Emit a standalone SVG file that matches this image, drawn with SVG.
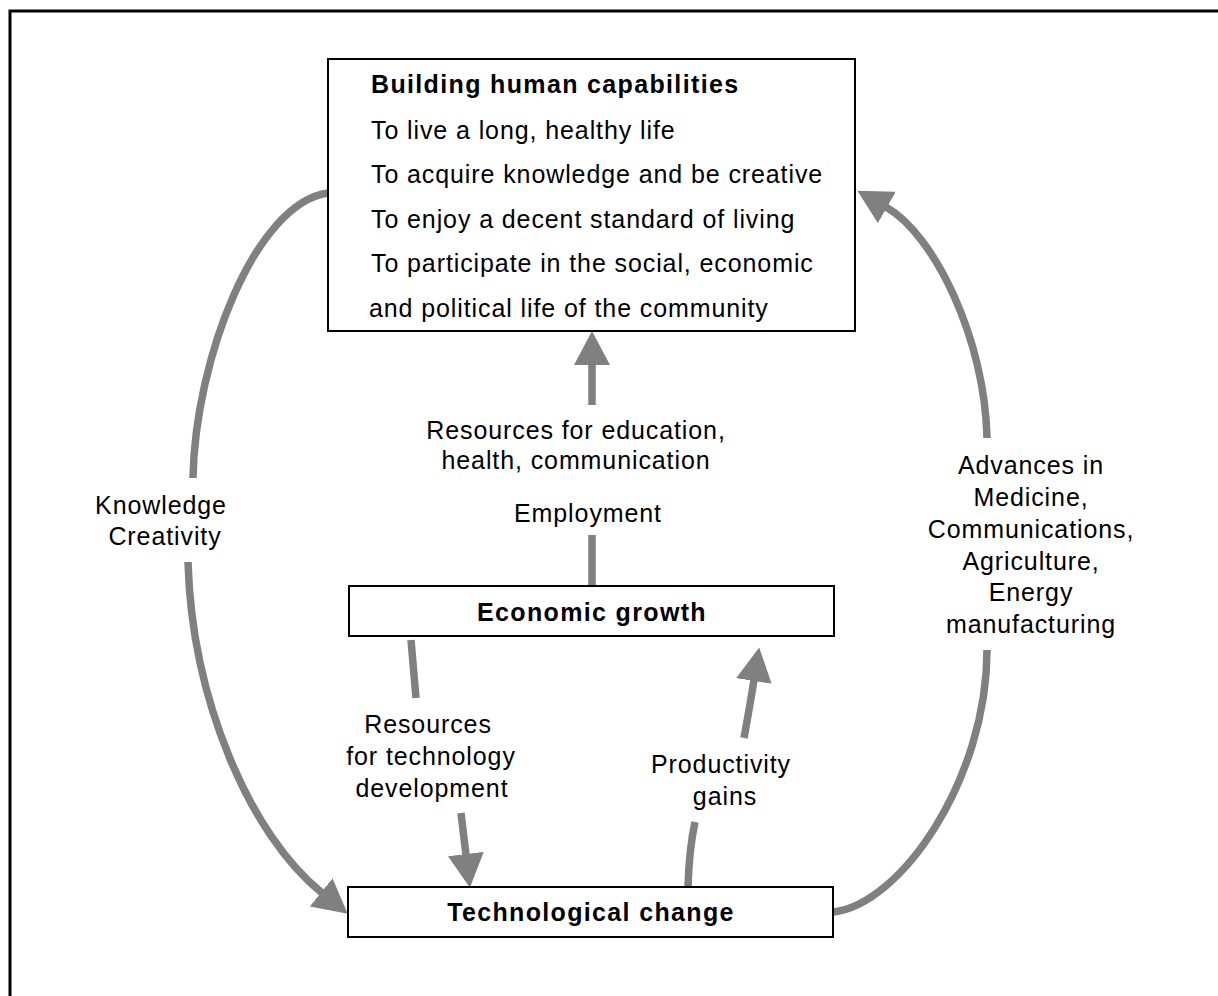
<svg xmlns="http://www.w3.org/2000/svg" width="1218" height="996" viewBox="0 0 1218 996">
  <style>
    .frame { fill: none; stroke: #000; stroke-width: 3; }
    .box { fill: #fff; stroke: #000; stroke-width: 2; }
    .txt { font-family: "Liberation Sans", Arial, sans-serif; font-size: 25px; fill: #000; letter-spacing: 0.9px; }
    .bold { font-weight: bold; letter-spacing: 1.35px; }
    .mid { text-anchor: middle; }
    .flow { fill: none; stroke: #808080; stroke-width: 7.5; marker-end: url(#head); }
  </style>
  <defs>
    <marker id="head" markerUnits="userSpaceOnUse" viewBox="0 0 34 36" refX="1" refY="18" markerWidth="34" markerHeight="36" orient="auto">
      <path d="M0,0 L34,18 L0,36 Z" fill="#808080"/>
    </marker>
  </defs>

  <!-- page frame -->
  <path class="frame" d="M10,996 V11 H1218"/>

  <!-- connectors -->
  <g id="connectors">
    <!-- knowledge / creativity loop -->
    <path class="flow" d="M328,193 C255,203 195,360 193,478 M188,562 C192,700 250,835 322,893"/>
    <!-- advances loop -->
    <path class="flow" d="M833,912 C900,905 987,780 987,650 M987,438 C985,340 935,235 886,207"/>
    <!-- growth to capabilities -->
    <path class="flow" d="M592,586 V535 M592,405 V364"/>
    <!-- growth to technology -->
    <path class="flow" d="M411,640 L416,698 M461,813 L466,855"/>
    <!-- technology to growth -->
    <path class="flow" d="M688,887 Q689,850 695,822 M744,738 Q750,705 754,680"/>
  </g>

  <g id="capabilities">
    <rect class="box" x="328" y="59" width="527" height="272"/>
    <text class="txt bold" x="371" y="93">Building human capabilities</text>
    <text class="txt" x="371" y="139">To live a long, healthy life</text>
    <text class="txt" x="371" y="183">To acquire knowledge and be creative</text>
    <text class="txt" x="371" y="228">To enjoy a decent standard of living</text>
    <text class="txt" x="371" y="272">To participate in the social, economic</text>
    <text class="txt" x="369" y="317">and political life of the community</text>
  </g>

  <g id="growth">
    <rect class="box" x="349" y="586" width="485" height="50"/>
    <text class="txt bold mid" x="592" y="621">Economic growth</text>
  </g>

  <g id="technology">
    <rect class="box" x="348" y="887" width="485" height="50"/>
    <text class="txt bold mid" x="591" y="921">Technological change</text>
  </g>

  <g id="labels">
    <text class="txt mid" x="576" y="439">Resources for education,</text>
    <text class="txt mid" x="576" y="469">health, communication</text>
    <text class="txt mid" x="588" y="522">Employment</text>
    <text class="txt mid" x="161" y="514">Knowledge</text>
    <text class="txt mid" x="165" y="545">Creativity</text>
    <text class="txt mid" x="1031" y="474">Advances in</text>
    <text class="txt mid" x="1031" y="506">Medicine,</text>
    <text class="txt mid" x="1031" y="538">Communications,</text>
    <text class="txt mid" x="1031" y="570">Agriculture,</text>
    <text class="txt mid" x="1031" y="601">Energy</text>
    <text class="txt mid" x="1031" y="633">manufacturing</text>
    <text class="txt mid" x="428" y="733">Resources</text>
    <text class="txt mid" x="431" y="765">for technology</text>
    <text class="txt mid" x="432" y="797">development</text>
    <text class="txt mid" x="721" y="773">Productivity</text>
    <text class="txt mid" x="725" y="805">gains</text>
  </g>
</svg>
